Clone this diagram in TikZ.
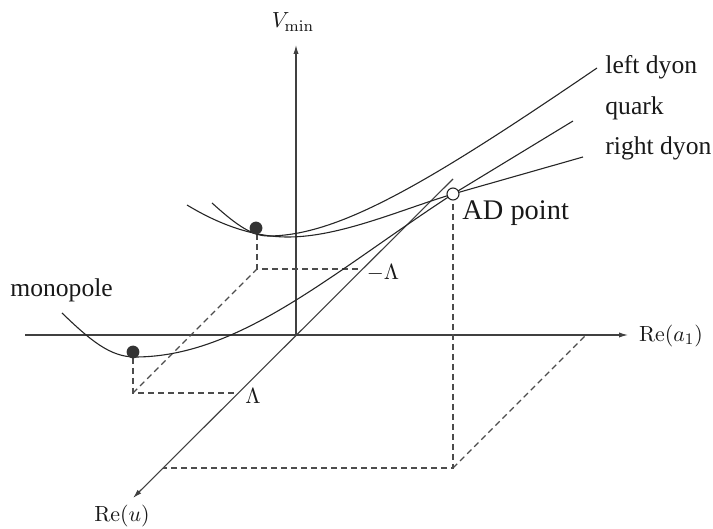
\documentclass[tikz,border=0pt]{standalone}
\usepackage[no-math]{fontspec}
\setmainfont{Liberation Serif}
\usetikzlibrary{arrows.meta}
\begin{document}
\begin{tikzpicture}[x=0.5pt,y=-0.5pt,
  axis/.style={line width=0.55pt, draw=black!75},
  curve/.style={line width=0.55pt, draw=black!85},
  guide/.style={line width=0.55pt, draw=black!70, dash pattern=on 3pt off 2pt},
  lbl/.style={font=\fontsize{12.8}{15}\selectfont, inner sep=0pt, anchor=base west, text=black!90},
  mlbl/.style={font=\fontsize{11}{13}\selectfont, inner sep=0pt, text=black!90},
  tip/.style={-{Latex[length=4.5pt,width=2.6pt]}},
  dot/.style={circle, fill=black!80, minimum size=6.4pt, inner sep=0pt},
  adpt/.style={circle, draw=black!85, fill=white, line width=0.55pt, minimum size=6pt, inner sep=0pt}]
\useasboundingbox (0,0) rectangle (713,529);

% axes
\coordinate (O) at (296,335);
\coordinate (Vtop) at (296,45);
\coordinate (Xl) at (25,335);
\coordinate (Xr) at (628,335);
\coordinate (Ut) at (453,179);
\coordinate (Ub) at (133,498);
\draw[axis,tip] (O) -- (Vtop);
\draw[axis,tip] (Xl) -- (Xr);
\draw[axis,tip] (Ut) -- (Ub);

% key points
\coordinate (Mf) at (133,393);
\coordinate (Ma) at (238,393);
\coordinate (D) at (257,269);
\coordinate (Da) at (362,269);
\coordinate (A) at (453,194);
\coordinate (Af) at (453,468);
\coordinate (Aa) at (163,468);
\coordinate (Ar) at (586,335);

% dashed guides
\draw[guide] (133,358) -- (Mf) -- (Ma);
\draw[guide] (Mf) -- (D);
\draw[guide] (257,234) -- (D) -- (Da);
\draw[guide] (A) -- (Af) -- (Aa);
\draw[guide] (Af) -- (Ar);

% monopole curve, continued as quark
\coordinate (m0) at (62,313);
\coordinate (mmin) at (135,357);
\coordinate (q1) at (573,121);
\draw[curve] (m0) .. controls (90,340) and (110,357) .. (mmin)
  .. controls (240,357) and (333,272) .. (A) -- (q1);

% left dyon
\coordinate (l0) at (212,203);
\coordinate (lmin) at (268,236);
\coordinate (l1) at (597,68);
\draw[curve] (l0) .. controls (232,221) and (250,236) .. (lmin)
  .. controls (338,236) and (427,184) .. (l1);

% right dyon
\coordinate (r0) at (187,205);
\coordinate (rmin) at (288,237);
\coordinate (r1) at (583,157);
\draw[curve] (r0) .. controls (215,222) and (250,237) .. (rmin)
  .. controls (340,237) and (400,210) .. (A) -- (r1);

% dots
\node[dot] (mdot) at (133,352) {};
\node[dot] (ddot) at (256,228) {};
\node[adpt] (ad) at (A) {};

% labels
\node[mlbl] (vlab) at (293,22) {$V_{\min}$};
\node[mlbl] (xlab) at (671,336) {$\mathrm{Re}(a_1)$};
\node[mlbl] (ulab) at (122,516) {$\mathrm{Re}(u)$};
\node[mlbl] (lam) at (253,396) {$\Lambda$};
\node[mlbl] (mlam) at (383,273) {$-\Lambda$};
\node[lbl] (monlab) at (10,297) {monopole};
\node[lbl] (ldlab) at (605,74) {left dyon};
\node[lbl] (qlab) at (605,115) {quark};
\node[lbl] (rdlab) at (605,155) {right dyon};
\node[lbl, font=\fontsize{14.2}{17}\selectfont] (adlab) at (462,220) {AD point};
\end{tikzpicture}
\end{document}
